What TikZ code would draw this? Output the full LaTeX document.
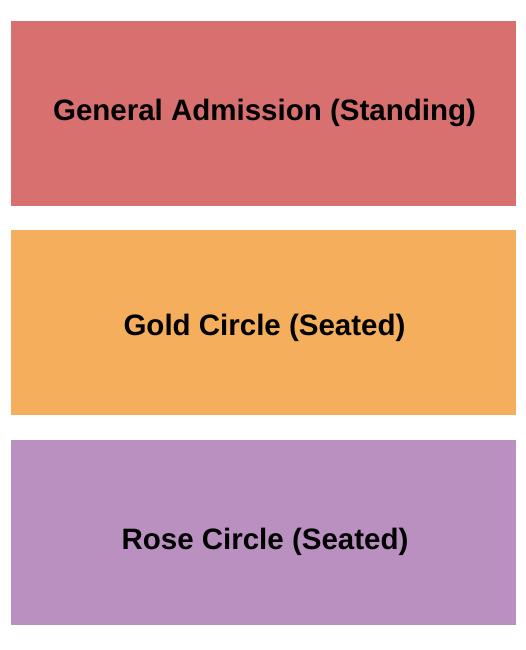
\documentclass[tikz,border=0pt]{standalone}
\usepackage{fontspec}
\setmainfont{Liberation Sans}
\definecolor{gacol}{HTML}{D87070}
\definecolor{goldcol}{HTML}{F4AE5C}
\definecolor{rosecol}{HTML}{BA90C0}
\begin{document}
\begin{tikzpicture}[x=1pt,y=-1pt]
\tikzset{section/.style={rectangle, inner sep=0pt, minimum width=505pt, minimum height=185pt},
  sectionlabel/.style={anchor=base, inner sep=0pt, font=\bfseries\fontsize{29.5}{34}\selectfont}}
\useasboundingbox (0,0) rectangle (525,650);
\fill[white] (0,0) rectangle (525,650);

\node[section, fill=gacol] (ga) at (263.5,113.5) {};
\node[section, fill=goldcol] (gold) at (263.5,322.5) {};
\node[section, fill=rosecol] (rose) at (263.5,532.5) {};

\node[sectionlabel] (galabel) at (264.5,121) {General Admission (Standing)};
\node[sectionlabel] (goldlabel) at (264.5,335) {Gold Circle (Seated)};
\node[sectionlabel] (roselabel) at (265,549) {Rose Circle (Seated)};
\end{tikzpicture}
\end{document}
